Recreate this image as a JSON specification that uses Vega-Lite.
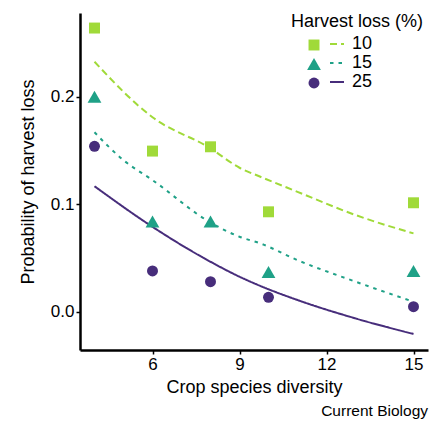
{
  "$schema": "https://vega.github.io/schema/vega-lite/v6.json",
  "width": 348,
  "height": 337,
  "autosize": "none",
  "padding": {"left": 80, "top": 13, "right": 10, "bottom": 71},
  "background": "white",
  "config": {
    "font": "Liberation Sans",
    "view": {"stroke": null},
    "axis": {
      "grid": false,
      "domainColor": "black",
      "domainWidth": 2.5,
      "tickColor": "black",
      "tickWidth": 1.5,
      "tickSize": 4,
      "labelFont": "Liberation Sans",
      "labelFontSize": 17,
      "labelColor": "black",
      "titleFont": "Liberation Sans",
      "titleFontSize": 18,
      "titleFontWeight": "normal",
      "titleColor": "black"
    },
    "legend": {
      "padding": 0,
      "labelFont": "Liberation Sans",
      "labelFontSize": 18,
      "labelColor": "black",
      "titleFont": "Liberation Sans",
      "titleFontSize": 18,
      "titleFontWeight": "normal",
      "titleColor": "black"
    }
  },
  "title": {
    "text": "Current Biology",
    "orient": "bottom",
    "anchor": "end",
    "fontSize": 15.5,
    "fontWeight": "normal",
    "color": "black",
    "offset": 8
  },
  "datasets": {
    "points": [
      {"diversity": 4, "prob": 0.264, "loss": "10"},
      {"diversity": 6, "prob": 0.1495, "loss": "10"},
      {"diversity": 8, "prob": 0.1535, "loss": "10"},
      {"diversity": 10, "prob": 0.093, "loss": "10"},
      {"diversity": 15, "prob": 0.1014, "loss": "10"},
      {"diversity": 4, "prob": 0.2, "loss": "15"},
      {"diversity": 6, "prob": 0.084, "loss": "15"},
      {"diversity": 8, "prob": 0.084, "loss": "15"},
      {"diversity": 10, "prob": 0.037, "loss": "15"},
      {"diversity": 15, "prob": 0.038, "loss": "15"},
      {"diversity": 4, "prob": 0.154, "loss": "25"},
      {"diversity": 6, "prob": 0.038, "loss": "25"},
      {"diversity": 8, "prob": 0.028, "loss": "25"},
      {"diversity": 10, "prob": 0.0134, "loss": "25"},
      {"diversity": 15, "prob": 0.0047, "loss": "25"}
    ],
    "curves": [
      {"diversity": 4, "fit": 0.2326, "group": "10"},
      {"diversity": 6, "fit": 0.181, "group": "10"},
      {"diversity": 8, "fit": 0.152, "group": "10"},
      {"diversity": 9, "fit": 0.134, "group": "10"},
      {"diversity": 9.72, "fit": 0.1256, "group": "10"},
      {"diversity": 11, "fit": 0.1116, "group": "10"},
      {"diversity": 13, "fit": 0.09, "group": "10"},
      {"diversity": 15, "fit": 0.0729, "group": "10"},
      {"diversity": 4, "fit": 0.167, "group": "15"},
      {"diversity": 5, "fit": 0.141, "group": "15"},
      {"diversity": 6, "fit": 0.1225, "group": "15"},
      {"diversity": 8, "fit": 0.083, "group": "15"},
      {"diversity": 9, "fit": 0.0698, "group": "15"},
      {"diversity": 9.72, "fit": 0.0636, "group": "15"},
      {"diversity": 11, "fit": 0.048, "group": "15"},
      {"diversity": 13, "fit": 0.028, "group": "15"},
      {"diversity": 15, "fit": 0.0093, "group": "15"},
      {"diversity": 4, "fit": 0.1168, "group": "25"},
      {"diversity": 6, "fit": 0.079, "group": "25"},
      {"diversity": 8, "fit": 0.0465, "group": "25"},
      {"diversity": 9, "fit": 0.0326, "group": "25"},
      {"diversity": 9.72, "fit": 0.024, "group": "25"},
      {"diversity": 11, "fit": 0.0109, "group": "25"},
      {"diversity": 13, "fit": -0.0062, "group": "25"},
      {"diversity": 15, "fit": -0.0207, "group": "25"}
    ]
  },
  "layer": [
    {
      "data": {"name": "curves"},
      "mark": {"type": "line", "strokeWidth": 2, "interpolate": "monotone"},
      "encoding": {
        "x": {
          "field": "diversity",
          "type": "quantitative",
          "scale": {"domain": [3.5, 15.5], "nice": false, "zero": false},
          "axis": {"values": [6, 9, 12, 15], "title": "Crop species diversity", "labelPadding": 2, "titlePadding": 6}
        },
        "y": {
          "field": "fit",
          "type": "quantitative",
          "scale": {"domain": [-0.0356, 0.278], "nice": false, "zero": false},
          "axis": {"values": [0, 0.1, 0.2], "format": ".1f", "title": "Probability of harvest loss", "labelPadding": 2, "titlePadding": 13}
        },
        "stroke": {
          "field": "group",
          "type": "nominal",
          "scale": {"range": ["#A0DA39", "#1FA187", "#472D7B"]},
          "legend": {"title": null, "orient": "none", "legendX": 248, "legendY": 22, "symbolType": "stroke", "symbolSize": 196, "symbolStrokeWidth": 2, "labelOffset": 6, "rowPadding": 1}
        },
        "strokeDash": {
          "field": "group",
          "type": "nominal",
          "scale": {"range": [[7, 4], [3.5, 5], [1, 0]]},
          "legend": {"title": null, "orient": "none", "legendX": 248, "legendY": 22, "symbolType": "stroke", "symbolSize": 196, "symbolStrokeWidth": 2, "labelOffset": 6, "rowPadding": 1}
        }
      }
    },
    {
      "data": {"name": "points"},
      "mark": {"type": "point", "filled": true, "opacity": 1, "strokeWidth": 0},
      "encoding": {
        "x": {"field": "diversity", "type": "quantitative"},
        "y": {"field": "prob", "type": "quantitative"},
        "color": {
          "field": "loss",
          "type": "nominal",
          "scale": {"range": ["#A0DA39", "#1FA187", "#472D7B"]},
          "legend": {"title": "Harvest loss (%)", "orient": "none", "legendX": 211, "legendY": 0, "symbolSize": 125, "labelOpacity": 0, "rowPadding": 1, "symbolOffset": 14}
        },
        "shape": {
          "field": "loss",
          "type": "nominal",
          "scale": {"range": ["square", "triangle-up", "circle"]},
          "legend": {"title": "Harvest loss (%)", "orient": "none", "legendX": 211, "legendY": 0, "symbolSize": 125, "labelOpacity": 0, "rowPadding": 1, "symbolOffset": 14}
        },
        "size": {
          "field": "loss",
          "type": "ordinal",
          "scale": {"type": "ordinal", "range": [120, 190, 120]},
          "legend": null
        }
      }
    }
  ]
}
